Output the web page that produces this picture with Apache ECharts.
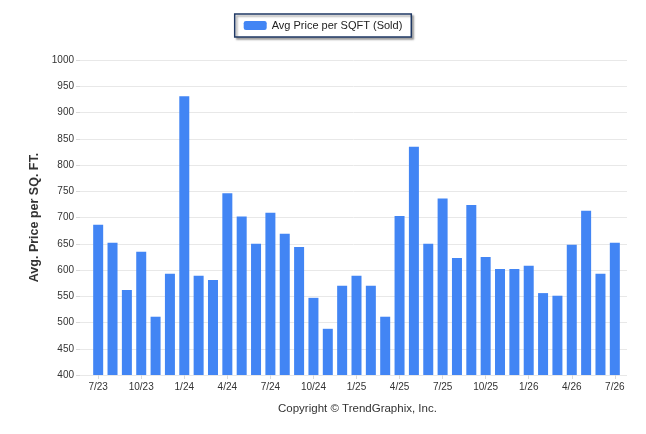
<!DOCTYPE html>
<html>
<head>
<meta charset="utf-8">
<script src="https://cdn.jsdelivr.net/npm/echarts@6/dist/echarts.min.js"></script>
<style>
  html, body { margin: 0; padding: 0; background: #fff; }
  #chart { width: 646px; height: 434px; }
</style>
</head>
<body>
<div id="chart"></div>
<script>
// months shown on the x axis (every 3rd one gets a label)
var months = [
  '7/23', '8/23', '9/23', '10/23', '11/23', '12/23',
  '1/24', '2/24', '3/24', '4/24', '5/24', '6/24',
  '7/24', '8/24', '9/24', '10/24', '11/24', '12/24',
  '1/25', '2/25', '3/25', '4/25', '5/25', '6/25',
  '7/25', '8/25', '9/25', '10/25', '11/25', '12/25',
  '1/26', '2/26', '3/26', '4/26', '5/26', '6/26',
  '7/26'
];
// avg price per sqft (sold)
var avgPrice = [
  686, 652, 562, 635, 511, 593,
  931, 589, 581, 746, 702, 650,
  709, 669, 644, 547, 488, 570,
  589, 570, 511, 703, 835, 650,
  736, 623, 724, 625, 602, 602,
  608, 556, 551, 648, 713, 593,
  652
];
var yMin = 400, yMax = 1000, yStep = 50;

var font = 'Liberation Sans, Arial, sans-serif';
var myChart = echarts.init(document.getElementById('chart'));

var option = {
  animation: false,
  legend: {
    data: ['Avg Price per SQFT (Sold)'],
    left: 'center',
    top: 14,
    padding: [6, 9, 6, 9],
    itemWidth: 23,
    itemHeight: 9,
    itemGap: 4,
    borderColor: '#1f3864',
    borderWidth: 1.5,
    backgroundColor: '#fff',
    shadowColor: 'rgba(0,0,0,0.35)',
    shadowBlur: 2,
    shadowOffsetX: 2,
    shadowOffsetY: 2,
    textStyle: { fontFamily: font, fontSize: 11, color: '#222' }
  },
  grid: [
    { left: 80, right: 19, top: 60, bottom: 59 },
    { left: 91, right: 24, top: 60, bottom: 59 }
  ],
  xAxis: [
    { type: 'category', gridIndex: 0, data: months, show: false },
    {
      type: 'category',
      gridIndex: 1,
      data: months,
      axisLine: { show: false },
      axisTick: {
        show: true,
        alignWithLabel: true,
        interval: 2,
        length: 4,
        lineStyle: { color: '#d9d9d9' }
      },
      axisLabel: {
        interval: 2,
        margin: 7,
        fontFamily: font,
        fontSize: 10,
        color: '#333'
      }
    }
  ],
  yAxis: [
    {
      type: 'value',
      gridIndex: 0,
      min: yMin,
      max: yMax,
      interval: yStep,
      name: 'Avg. Price per SQ. FT.',
      nameLocation: 'middle',
      nameGap: 37,
      nameTextStyle: { fontFamily: font, fontSize: 12.5, fontWeight: 'bold', color: '#333' },
      axisLine: { show: false },
      axisTick: { show: true, length: 4, lineStyle: { color: '#d9d9d9' } },
      axisLabel: {
        margin: 6,
        fontFamily: font,
        fontSize: 10,
        color: '#333',
        formatter: function (v) { return String(v); }
      },
      splitLine: { show: true, lineStyle: { color: '#e8e8e8' } }
    },
    {
      type: 'value',
      gridIndex: 1,
      min: yMin,
      max: yMax,
      interval: yStep,
      show: false
    }
  ],
  series: [
    {
      name: 'Avg Price per SQFT (Sold)',
      type: 'bar',
      xAxisIndex: 1,
      yAxisIndex: 1,
      data: avgPrice,
      barWidth: 10,
      itemStyle: { color: '#4285f4' }
    }
  ],
  graphic: [
    {
      type: 'text',
      left: 278,
      top: 403,
      style: {
        text: 'Copyright \u00a9 TrendGraphix, Inc.',
        fontFamily: font,
        fontSize: 11.5,
        fill: '#333'
      }
    }
  ]
};

myChart.setOption(option);
</script>
</body>
</html>
